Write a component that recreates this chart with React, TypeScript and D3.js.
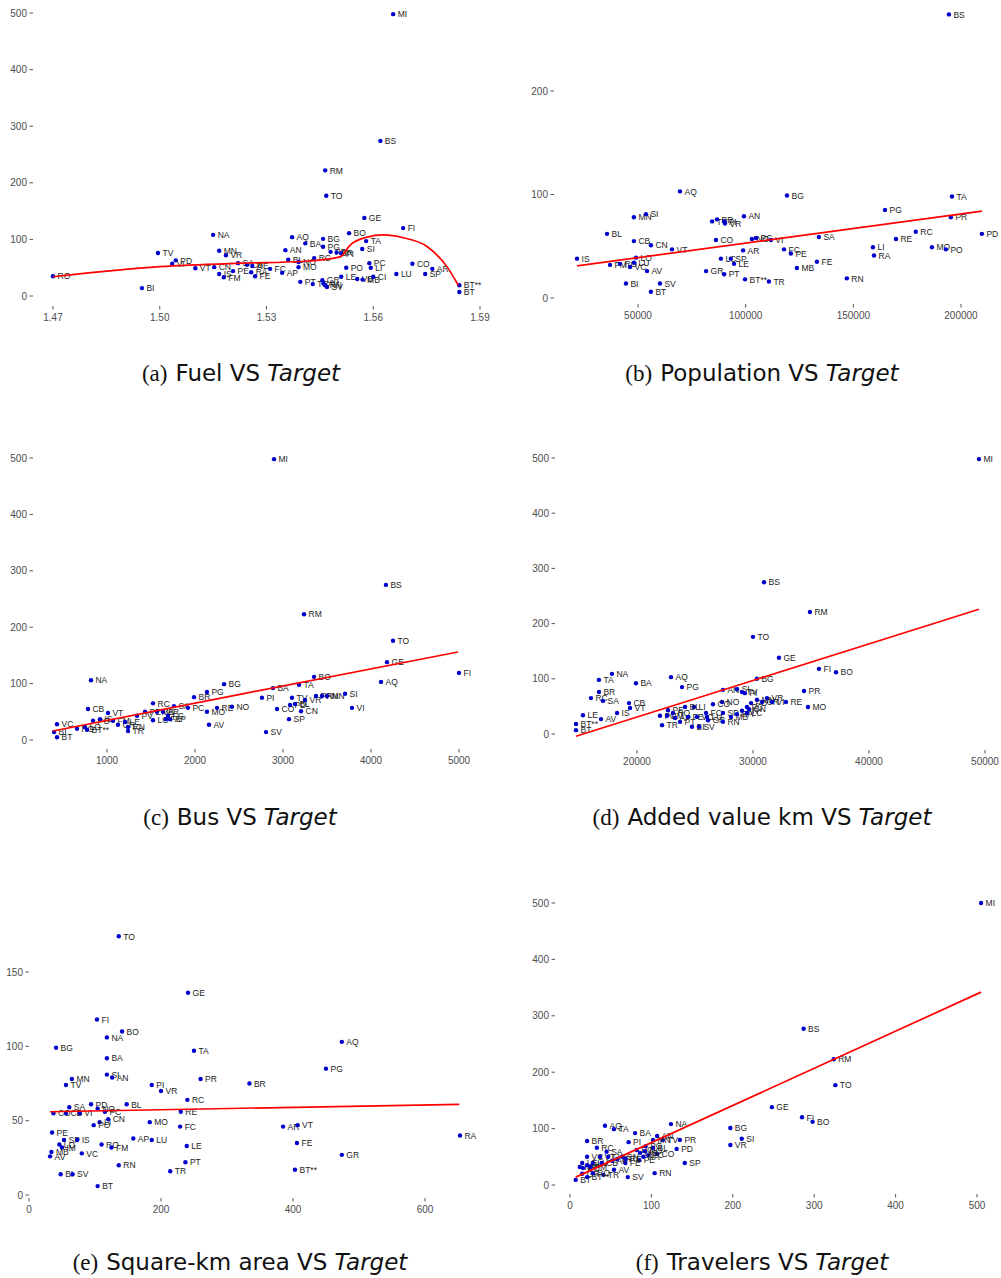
import React from 'react';
import * as d3 from 'd3';

type Pt = [string, number, number];
type Fit = [number, number][];

// (a) Fuel
const fuelPoints: Pt[] = [
  ['RO', 1.47, 35], ['BI', 1.495, 14], ['TV', 1.4995, 76], ['PD', 1.5045, 63], ['VI', 1.5035, 57],
  ['VT', 1.51, 49], ['NA', 1.515, 108], ['MN', 1.5167, 80], ['VR', 1.5186, 72], ['CN', 1.5153, 51],
  ['IS', 1.5167, 39], ['FM', 1.518, 33], ['PE', 1.5206, 44], ['SA', 1.522, 58], ['CB', 1.5245, 55],
  ['RE', 1.526, 53], ['RA', 1.5257, 42], ['FE', 1.5268, 35], ['FC', 1.531, 48], ['AP', 1.5344, 41],
  ['AN', 1.5353, 81], ['AQ', 1.5372, 104], ['BL', 1.5361, 64], ['NO', 1.539, 60], ['MO', 1.539, 51],
  ['BA', 1.5409, 93], ['RC', 1.5434, 67], ['BG', 1.5459, 101], ['PG', 1.5459, 87], ['TO', 1.5468, 177],
  ['PT', 1.5395, 25], ['TR', 1.543, 21], ['GR', 1.5457, 28], ['SV', 1.547, 16], ['AV', 1.546, 22],
  ['RN', 1.5465, 19], ['PR', 1.548, 78], ['BR', 1.5497, 77], ['PI', 1.551, 75], ['RM', 1.5465, 222],
  ['BS', 1.562, 274], ['MI', 1.5656, 498], ['BO', 1.5532, 111], ['PO', 1.5524, 50], ['LE', 1.551, 34],
  ['VB', 1.5555, 30], ['MB', 1.557, 29], ['GE', 1.5575, 138], ['TA', 1.558, 97], ['SI', 1.5569, 83],
  ['PC', 1.5589, 58], ['LI', 1.5593, 50], ['CI', 1.56, 34], ['FI', 1.5684, 120], ['LU', 1.5665, 39],
  ['CO', 1.571, 57], ['AR', 1.5766, 48], ['SP', 1.5746, 39], ['BT**', 1.5842, 19], ['BT', 1.5842, 7],
];
const fuelFit: Fit = [
  [1.47, 34], [1.5, 52], [1.5226, 58], [1.54, 61], [1.5507, 69], [1.5535, 90], [1.5583, 104],
  [1.5628, 108], [1.5684, 103], [1.5752, 87], [1.5808, 51], [1.5839, 19],
];

// (b) Population
const popPoints: Pt[] = [
  ['IS', 21680, 38], ['BL', 35600, 62], ['MN', 48100, 78], ['SI', 53700, 81], ['AQ', 69500, 103],
  ['CB', 48100, 55], ['CN', 56000, 51], ['VT', 65800, 47], ['FM', 37000, 32], ['RO', 41600, 33],
  ['VC', 46300, 30], ['LU', 48100, 34], ['LO', 49100, 39], ['AV', 54200, 26], ['BI', 44400, 14],
  ['SV', 60200, 14], ['BT', 56000, 6], ['CO', 86200, 56], ['TV', 84400, 74], ['BR', 86700, 76],
  ['PI', 90000, 74], ['VR', 90400, 72], ['AN', 99200, 79], ['LC', 88500, 38], ['SP', 93100, 38],
  ['LE', 94600, 33], ['GR', 81600, 26], ['PT', 90000, 23], ['AR', 98800, 46], ['BT**', 99700, 18],
  ['NO', 102900, 57], ['PC', 104800, 58], ['BG', 119200, 99], ['TA', 195800, 98], ['PG', 164700, 85],
  ['PR', 195300, 78], ['RC', 179000, 64], ['RE', 169800, 57], ['SA', 134000, 59], ['PD', 209700, 62],
  ['MO', 186500, 49], ['PO', 193000, 47], ['LI', 159100, 49], ['RA', 159600, 41], ['FC', 117800, 47],
  ['PE', 121000, 43], ['FE', 133100, 35], ['MB', 123800, 29], ['RN', 147000, 19], ['TR', 110800, 16],
  ['VI', 111700, 56], ['BS', 194400, 274],
];
const popFit: Fit = [[21700, 31], [209700, 84]];

// (c) Bus
const busPoints: Pt[] = [
  ['NA', 818, 106], ['VC', 432, 28], ['BI', 398, 14], ['BT', 432, 5], ['CB', 784, 55], ['VT', 1011, 48],
  ['RO', 659, 20], ['LO', 750, 23], ['BT**', 773, 18], ['PO', 841, 34], ['IS', 920, 37], ['FM', 1068, 34],
  ['GR', 1125, 27], ['LE', 1205, 32], ['RN', 1239, 23], ['TR', 1239, 16], ['PV', 1341, 43], ['PE', 1432, 50],
  ['RC', 1523, 65], ['LC', 1523, 35], ['MB', 1568, 50], ['AR', 1636, 50], ['FE', 1670, 37], ['FC', 1693, 43],
  ['AP', 1716, 37], ['SA', 1761, 60], ['PC', 1920, 57], ['BR', 1989, 76], ['PG', 2136, 85], ['MO', 2136, 50],
  ['RE', 2250, 57], ['NO', 2420, 59], ['AV', 2159, 27], ['BG', 2330, 99], ['TO', 4250, 176], ['GE', 4182, 138],
  ['FI', 5000, 119], ['AQ', 4114, 103], ['BO', 3352, 112], ['TA', 3182, 98], ['BA', 2886, 92], ['PI', 2761, 75],
  ['TV', 3102, 75], ['VR', 3250, 71], ['PR', 3375, 78], ['AN', 3443, 78], ['MN', 3500, 78], ['SI', 3705, 82],
  ['VI', 3784, 57], ['CO', 2932, 55], ['PD', 3080, 62], ['BL', 3136, 64], ['CN', 3205, 51], ['SP', 3068, 37],
  ['SV', 2807, 14], ['BS', 4170, 275], ['RM', 3239, 223], ['MI', 2898, 498],
];
const busFit: Fit = [[386, 16], [2511, 81], [4989, 156]];

// (d) Added value km
const addedPoints: Pt[] = [
  ['TO', 30000, 176], ['GE', 32240, 138], ['NA', 17840, 109], ['TA', 16720, 98], ['BA', 19910, 92],
  ['AQ', 22930, 103], ['PG', 23880, 85], ['BR', 16720, 76], ['RC', 16030, 65], ['SA', 17070, 60],
  ['CB', 19310, 56], ['VT', 19400, 47], ['IS', 18280, 38], ['LE', 15340, 34], ['AV', 16900, 27],
  ['BT**', 14740, 18], ['BT', 14740, 7], ['BG', 30340, 100], ['AN', 27410, 80], ['SI', 28620, 81],
  ['TV', 29050, 76], ['PI', 29300, 74], ['NO', 27330, 58], ['CO', 26550, 54], ['LI', 24910, 49],
  ['PO', 21980, 33], ['TR', 22160, 16], ['FM', 22590, 33], ['PE', 22670, 43], ['RO', 23100, 38],
  ['AP', 23280, 29], ['PT', 23710, 22], ['BL', 24140, 49], ['FE', 24400, 31], ['BI', 24740, 13],
  ['VC', 25170, 31], ['SV', 25340, 13], ['FC', 25950, 38], ['LU', 26030, 31], ['GR', 26120, 25],
  ['SP', 27410, 38], ['RN', 27410, 22], ['MB', 28100, 31], ['RA', 28620, 36], ['AR', 29050, 42],
  ['PC', 29480, 49], ['LC', 29480, 38], ['CN', 29660, 45], ['PD', 29830, 56], ['MN', 30340, 62],
  ['VR', 31210, 65], ['CR', 30780, 58], ['VI', 31640, 58], ['RE', 32840, 58], ['FI', 35690, 118],
  ['BO', 37160, 112], ['PR', 34400, 78], ['MO', 34740, 49], ['MI', 49480, 498], ['BS', 30950, 275],
  ['RM', 34910, 221],
];
const addedFit: Fit = [[14740, -4], [30000, 97], [49480, 226]];

// (e) Square-km area
const areaPoints: Pt[] = [
  ['GE', 241, 136], ['FI', 103, 118], ['BO', 141, 110], ['NA', 118, 106], ['BG', 41, 99], ['TA', 250, 97],
  ['BA', 118, 92], ['SI', 118, 81], ['AN', 126, 79], ['MN', 65, 78], ['TV', 56, 74], ['PR', 260, 78],
  ['PI', 186, 74], ['VR', 200, 70], ['BR', 334, 75], ['RC', 240, 64], ['BL', 148, 61], ['PD', 94, 61],
  ['SA', 61, 59], ['RE', 230, 56], ['CO', 37, 55], ['CB', 56, 55], ['VI', 77, 55], ['NO', 104, 58],
  ['PC', 115, 56], ['LI', 107, 49], ['CN', 120, 51], ['PO', 98, 47], ['MO', 183, 49], ['FC', 229, 46],
  ['PE', 35, 42], ['SP', 53, 37], ['IS', 73, 37], ['AP', 158, 38], ['LU', 186, 37], ['LO', 46, 34],
  ['IM', 50, 32], ['RO', 110, 34], ['FM', 125, 32], ['LE', 239, 33], ['MB', 34, 29], ['AV', 32, 26],
  ['VC', 80, 28], ['PT', 237, 22], ['RN', 136, 20], ['TR', 214, 16], ['BI', 48, 14], ['SV', 66, 14],
  ['BT', 104, 6], ['TO', 136, 174], ['AQ', 474, 103], ['PG', 450, 85], ['AR', 385, 46], ['VT', 407, 47],
  ['FE', 406, 35], ['GR', 474, 27], ['BT**', 403, 17], ['RA', 653, 40],
];
const areaFit: Fit = [[32, 56], [652, 61]];

// (f) Travelers
const travPoints: Pt[] = [
  ['AQ', 43, 105], ['TA', 54, 99], ['BA', 80, 92], ['NA', 124, 108], ['BR', 21, 78], ['PI', 72, 76],
  ['PR', 135, 80], ['PD', 131, 64], ['SP', 141, 39], ['RN', 104, 21], ['SV', 71, 14], ['BT', 7, 9],
  ['AN', 107, 87], ['TV', 114, 80], ['MN', 102, 80], ['CO', 107, 55], ['PE', 85, 44], ['FE', 68, 39],
  ['AV', 54, 27], ['TR', 41, 18], ['RC', 33, 66], ['SA', 45, 59], ['VC', 21, 50], ['LE', 15, 39],
  ['IS', 12, 32], ['PO', 16, 30], ['BI', 21, 35], ['FM', 25, 32], ['LU', 28, 39], ['VT', 37, 50],
  ['CB', 39, 39], ['LI', 47, 50], ['AP', 52, 43], ['PT', 58, 46], ['CN', 64, 50], ['RE', 68, 46],
  ['GR', 15, 20], ['BT**', 21, 14], ['RO', 28, 21], ['PC', 82, 62], ['MO', 86, 57], ['NO', 92, 60],
  ['FC', 96, 53], ['RA', 90, 50], ['BL', 102, 66], ['PG', 93, 69], ['TO', 326, 177], ['GE', 248, 138],
  ['FI', 285, 120], ['BO', 298, 112], ['BG', 197, 101], ['SI', 211, 82], ['VR', 197, 71], ['RM', 324, 223],
  ['BS', 287, 277], ['MI', 505, 500],
];
const travFit: Fit = [[7, 14], [323, 222], [505, 342]];

const fuelTicks = [1.47, 1.5, 1.53, 1.56, 1.59];
const popTicks = [50000, 100000, 150000, 200000];
const busTicks = [1000, 2000, 3000, 4000, 5000];
const addedTicks = [20000, 30000, 40000, 50000];
const areaTicks = [0, 200, 400, 600];
const travTicks = [0, 100, 200, 300, 400, 500];
const target500 = [0, 100, 200, 300, 400, 500];
const target200 = [0, 100, 200];
const target150 = [0, 50, 100, 150];

interface PanelCfg {
  points: Pt[];
  fit: Fit;
  curved?: boolean;
  xTicks: number[];
  yTicks: number[];
  xPx: [number, number];
  yPx: [number, number];
  yAxisX: number;
  xAxisY: number;
  xFmt?: (v: number) => string;
  tag: string;
  name: string;
  capX: number;
  capY: number;
}

const panels: PanelCfg[] = [
  { points: fuelPoints, fit: fuelFit, curved: true, xTicks: fuelTicks, yTicks: target500,
    xPx: [53, 480], yPx: [296, 13], yAxisX: 33, xAxisY: 306, xFmt: d3.format('.2f'),
    tag: '(a)', name: 'Fuel VS', capX: 241, capY: 381 },
  { points: popPoints, fit: popFit, xTicks: popTicks, yTicks: target200,
    xPx: [638, 961], yPx: [298, 91], yAxisX: 554, xAxisY: 304,
    tag: '(b)', name: 'Population VS', capX: 762, capY: 381 },
  { points: busPoints, fit: busFit, xTicks: busTicks, yTicks: target500,
    xPx: [107, 459], yPx: [740, 458], yAxisX: 33, xAxisY: 749,
    tag: '(c)', name: 'Bus VS', capX: 240, capY: 825 },
  { points: addedPoints, fit: addedFit, xTicks: addedTicks, yTicks: target500,
    xPx: [637, 985], yPx: [734, 458], yAxisX: 555, xAxisY: 750,
    tag: '(d)', name: 'Added value km VS', capX: 762, capY: 825 },
  { points: areaPoints, fit: areaFit, xTicks: areaTicks, yTicks: target150,
    xPx: [29, 425], yPx: [1195, 972], yAxisX: 29, xAxisY: 1198,
    tag: '(e)', name: 'Square-km area VS', capX: 240, capY: 1270 },
  { points: travPoints, fit: travFit, xTicks: travTicks, yTicks: target500,
    xPx: [570, 977], yPx: [1185, 903], yAxisX: 555, xAxisY: 1194,
    tag: '(f)', name: 'Travelers VS', capX: 762, capY: 1270 },
];

const tickFont = 'Liberation Sans, Arial, sans-serif';

const Panel: React.FC<{ cfg: PanelCfg }> = ({ cfg }) => {
  const xt = cfg.xTicks, yt = cfg.yTicks;
  const x = d3.scaleLinear().domain([xt[0], xt[xt.length - 1]]).range(cfg.xPx);
  const y = d3.scaleLinear().domain([yt[0], yt[yt.length - 1]]).range(cfg.yPx);
  const xFmt = cfg.xFmt || ((v: number) => String(v));
  const line = d3.line<[number, number]>()
    .x(d => x(d[0]))
    .y(d => y(d[1]))
    .curve(cfg.curved ? d3.curveMonotoneX : d3.curveLinear);

  return (
    <g>
      {yt.map(t => (
        <g key={'y' + t}>
          <line x1={cfg.yAxisX - 3.5} x2={cfg.yAxisX} y1={y(t)} y2={y(t)} stroke="#555" strokeWidth={1} />
          <text x={cfg.yAxisX - 6} y={y(t)} dy="0.35em" textAnchor="end" fontSize={10}
            fontFamily={tickFont} fill="#4d4d4d">{String(t)}</text>
        </g>
      ))}
      {xt.map(t => (
        <g key={'x' + t}>
          <line x1={x(t)} x2={x(t)} y1={cfg.xAxisY} y2={cfg.xAxisY + 3.5} stroke="#555" strokeWidth={1} />
          <text x={x(t)} y={cfg.xAxisY + 14.5} textAnchor="middle" fontSize={10}
            fontFamily={tickFont} fill="#4d4d4d">{xFmt(t)}</text>
        </g>
      ))}
      {cfg.points.map((p, i) => (
        <g key={'p' + i}>
          <circle cx={x(p[1])} cy={y(p[2])} r={2.2} fill="#0000cc" />
          <text x={x(p[1]) + 4.5} y={y(p[2]) + 3.2} fontSize={8.5} fontFamily={tickFont} fill="#222">{p[0]}</text>
        </g>
      ))}
      <path d={line(cfg.fit) || ''} fill="none" stroke="#ff0000" strokeWidth={1.7} />
      <text x={cfg.capX} y={cfg.capY} textAnchor="middle" fontSize={23} fill="#111">
        <tspan fontFamily="Liberation Serif, serif">{cfg.tag}</tspan>
        <tspan dx={8} fontFamily="DejaVu Sans, sans-serif">{cfg.name}</tspan>
        <tspan dx={7} fontFamily="DejaVu Sans, sans-serif" fontStyle="italic">Target</tspan>
      </text>
    </g>
  );
};

export default function App() {
  return (
    <svg width={1001} height={1278} style={{ position: 'absolute', left: 0, top: 0, background: '#fff' }}>
      <rect width={1001} height={1278} fill="#fff" />
      {panels.map((p, i) => <Panel key={i} cfg={p} />)}
    </svg>
  );
}
